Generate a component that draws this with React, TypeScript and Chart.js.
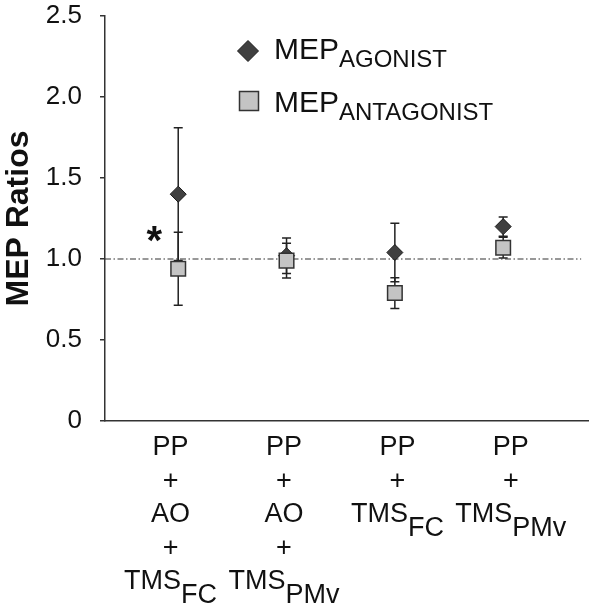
import React, { useEffect, useRef } from "react";
import { Chart, registerables } from "chart.js";
Chart.register(...registerables);

// ---- data ----
const categories = ["PP + AO + TMS_FC", "PP + AO + TMS_PMv", "PP + TMS_FC", "PP + TMS_PMv"];
const agonist = [1.4, 1.02, 1.04, 1.2];
const agonistErr = [0.41, 0.11, 0.18, 0.06];
const antagonist = [0.94, 0.99, 0.79, 1.07];
const antagonistErr = [0.225, 0.107, 0.095, 0.064];
const yTicks = [0, 0.5, 1.0, 1.5, 2.0, 2.5];
const referenceValue = 1.0;
const legendMain = ["MEP", "MEP"];
const legendSub = ["AGONIST", "ANTAGONIST"];
const significance = ["*", "", "", ""];
const significanceY = 1.16;
const yTitle = "MEP Ratios";

const FONT = "'Liberation Sans', Arial, Helvetica, sans-serif";
const X_MIN = 0.324;
const X_MAX = 4.785;
const REF_END = 4.72;
const LABEL_SPREAD = 1.047;

function parseRich(s: string): [string, string] {
  const i = s.indexOf("_");
  return i < 0 ? [s, ""] : [s.slice(0, i), s.slice(i + 1)];
}

function drawRich(
  ctx: CanvasRenderingContext2D,
  text: string,
  x: number,
  baseline: number,
  mainFont: string,
  subFont: string,
  subOffset: number,
  align: "center" | "left"
) {
  const [main, sub] = parseRich(text);
  ctx.font = mainFont;
  const wm = ctx.measureText(main).width;
  ctx.font = subFont;
  const ws = sub ? ctx.measureText(sub).width : 0;
  const total = wm + ws;
  const startX = align === "center" ? x - total / 2 : x;
  ctx.textAlign = "left";
  ctx.textBaseline = "alphabetic";
  ctx.font = mainFont;
  ctx.fillText(main, startX, baseline);
  if (sub) {
    ctx.font = subFont;
    ctx.fillText(sub, startX + wm, baseline + subOffset);
  }
}

const errorBarPlugin = {
  id: "errorBars",
  beforeDatasetsDraw(chart: any) {
    const { ctx } = chart;
    const x = chart.scales.x;
    const y = chart.scales.y;
    ctx.save();
    ctx.strokeStyle = "#222";
    ctx.lineWidth = 1.5;
    const sets: [number[], number[]][] = [
      [agonist, agonistErr],
      [antagonist, antagonistErr],
    ];
    sets.forEach(([vals, errs]) => {
      vals.forEach((v, i) => {
        const px = x.getPixelForValue(i + 1);
        const top = y.getPixelForValue(v + errs[i]);
        const bot = y.getPixelForValue(v - errs[i]);
        ctx.beginPath();
        ctx.moveTo(px, top);
        ctx.lineTo(px, bot);
        ctx.moveTo(px - 4.5, top);
        ctx.lineTo(px + 4.5, top);
        ctx.moveTo(px - 4.5, bot);
        ctx.lineTo(px + 4.5, bot);
        ctx.stroke();
      });
    });
    ctx.restore();
  },
};

const annotationPlugin = {
  id: "annotations",
  afterDraw(chart: any) {
    const { ctx, chartArea } = chart;
    const x = chart.scales.x;
    const y = chart.scales.y;
    ctx.save();
    ctx.fillStyle = "#111";

    // category labels with subscripts
    const labelFont = `27px ${FONT}`;
    const lineH = 33.5;
    const mid = x.getPixelForValue((categories.length + 1) / 2);
    categories.forEach((cat, i) => {
      const parts = cat.split(" + ");
      const lines: string[] = [];
      parts.forEach((p, k) => {
        if (k > 0) lines.push("+");
        lines.push(p);
      });
      const cx = mid + (x.getPixelForValue(i + 1) - mid) * LABEL_SPREAD;
      lines.forEach((ln, k) => {
        drawRich(ctx, ln, cx, chartArea.bottom + 34 + k * lineH, labelFont, labelFont, 14, "center");
      });
    });

    // significance markers
    significance.forEach((s, i) => {
      if (!s) return;
      ctx.font = `bold 40px ${FONT}`;
      ctx.textAlign = "center";
      ctx.textBaseline = "alphabetic";
      ctx.fillText(s, x.getPixelForValue(i + 1) - 24, y.getPixelForValue(significanceY) + 21);
    });

    // legend
    const lx = 248;
    const rows = [51, 101];
    ctx.beginPath();
    ctx.moveTo(lx, rows[0] - 10.5);
    ctx.lineTo(lx + 10.5, rows[0]);
    ctx.lineTo(lx, rows[0] + 10.5);
    ctx.lineTo(lx - 10.5, rows[0]);
    ctx.closePath();
    ctx.fillStyle = "#404040";
    ctx.fill();
    ctx.strokeStyle = "#1a1a1a";
    ctx.lineWidth = 1;
    ctx.stroke();
    ctx.beginPath();
    ctx.rect(lx + 1 - 9.5, rows[1] - 9.5, 19, 19);
    ctx.fillStyle = "#c4c4c4";
    ctx.fill();
    ctx.strokeStyle = "#333";
    ctx.lineWidth = 1.5;
    ctx.stroke();

    ctx.fillStyle = "#111";
    legendMain.forEach((m, k) => {
      drawRich(ctx, `${m}_${legendSub[k]}`, 274, rows[k] + 8 + (k === 1 ? 3 : 0), `30px ${FONT}`, `24px ${FONT}`, 8, "left");
    });
    ctx.restore();
  },
};

export default function App() {
  const ref = useRef<HTMLCanvasElement>(null);
  useEffect(() => {
    const chart = new Chart(ref.current as HTMLCanvasElement, {
      type: "scatter",
      data: {
        datasets: [
          {
            label: "MEP antagonist",
            data: antagonist.map((v, i) => ({ x: i + 1, y: v })),
            pointStyle: "rect",
            pointRadius: 10.3,
            backgroundColor: "#c4c4c4",
            borderColor: "#333",
            borderWidth: 1.5,
            order: 0,
          },
          {
            label: "MEP agonist",
            data: agonist.map((v, i) => ({ x: i + 1, y: v })),
            pointStyle: "rectRot",
            pointRadius: 8,
            backgroundColor: "#404040",
            borderColor: "#1a1a1a",
            borderWidth: 1,
            order: 1,
          },
          {
            type: "line",
            label: "reference",
            data: [
              { x: X_MIN, y: referenceValue },
              { x: REF_END, y: referenceValue },
            ],
            borderColor: "#333",
            borderWidth: 1.2,
            borderDash: [6, 2.5, 1.5, 2.5],
            pointRadius: 0,
            fill: false,
            order: 2,
          } as any,
        ],
      },
      options: {
        responsive: false,
        animation: false,
        layout: { padding: { top: 16, right: 6, left: 0, bottom: 0 } },
        plugins: { legend: { display: false }, tooltip: { enabled: false } },
        scales: {
          x: {
            type: "linear",
            min: X_MIN,
            max: X_MAX,
            ticks: { display: false },
            grid: { display: false },
            border: { display: true, color: "#333", width: 1.5 },
            afterFit: (s: any) => {
              s.height = 189;
              s.paddingLeft = 0;
              s.paddingRight = 0;
            },
          },
          y: {
            type: "linear",
            min: 0,
            max: 2.5,
            afterBuildTicks: (s: any) => {
              s.ticks = yTicks.map((v) => ({ value: v }));
            },
            ticks: {
              padding: 18,
              color: "#111",
              font: { family: FONT, size: 26 },
              callback: (v: any) => (Number(v) === 0 ? "0" : Number(v).toFixed(1)),
            },
            grid: { drawOnChartArea: false, drawTicks: true, tickLength: 5, color: "#333", lineWidth: 1.5 },
            border: { display: true, color: "#333", width: 1.5 },
            title: {
              display: true,
              text: yTitle,
              color: "#111",
              font: { family: FONT, size: 32, weight: "bold" },
              padding: { top: 0, bottom: 0 },
            },
            afterFit: (s: any) => {
              s.width = 105;
              s.paddingTop = 0;
              s.paddingBottom = 0;
            },
          },
        },
      },
      plugins: [errorBarPlugin, annotationPlugin],
    } as any);
    return () => chart.destroy();
  }, []);
  return (
    <div style={{ position: "absolute", left: 0, top: 0, width: 600, height: 610, background: "#fff" }}>
      <canvas ref={ref} width={600} height={610} style={{ display: "block" }} />
    </div>
  );
}
